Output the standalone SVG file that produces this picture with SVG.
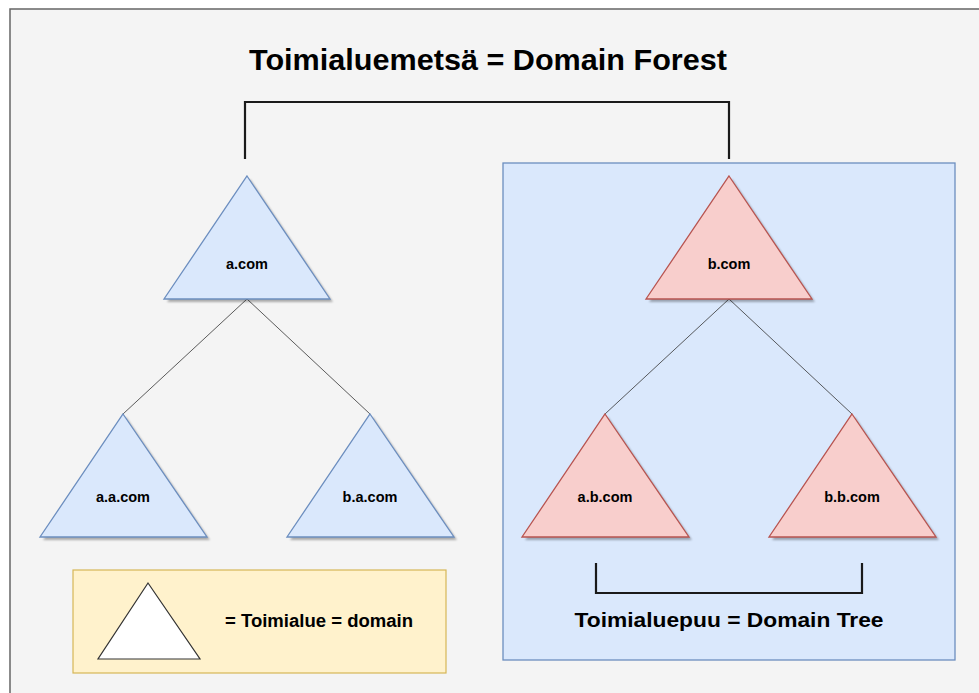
<svg xmlns="http://www.w3.org/2000/svg" width="979" height="693" viewBox="0 0 979 693">
  <style>
    .lbl { font-family: "Liberation Sans", Arial, sans-serif; font-weight: bold; fill: #000; }
    .node { font-size: 14.5px; text-anchor: middle; }
    .blue { fill: #dae8fc; stroke: #6c8ebf; stroke-width: 1.3; }
    .red { fill: #f8cecc; stroke: #b85450; stroke-width: 1.3; }
    .shadow { fill: #000; opacity: 0.3; }
    .link { stroke: #333; stroke-width: 0.8; fill: none; }
    .bracket { stroke: #1a1a1a; stroke-width: 2.2; fill: none; }
  </style>
  <defs>
    <filter id="soft" x="-10%" y="-10%" width="120%" height="120%">
      <feGaussianBlur stdDeviation="0.8"/>
    </filter>
  </defs>

  <!-- page frame -->
  <rect x="10" y="9" width="990" height="700" fill="#f4f4f4" stroke="#666" stroke-width="1.5"/>

  <!-- domain tree container -->
  <g id="tree-area">
    <rect x="503" y="163" width="452" height="497" fill="#dae8fc" stroke="#6c8ebf" stroke-width="1.3"/>
  </g>

  <!-- connectors -->
  <g id="connectors">
    <path class="bracket" d="M245,159 V102 H729 V159"/>
    <line class="link" x1="247" y1="299" x2="123" y2="414"/>
    <line class="link" x1="247" y1="299" x2="370" y2="414"/>
    <line class="link" x1="729" y1="299" x2="605" y2="414"/>
    <line class="link" x1="729" y1="299" x2="852" y2="414"/>
    <path class="bracket" d="M596,563 V593 H862 V563"/>
  </g>

  <g id="title">
    <text class="lbl" x="488" y="70" font-size="29" text-anchor="middle" textLength="478" lengthAdjust="spacingAndGlyphs">Toimialuemetsä = Domain Forest</text>
  </g>

  <!-- domains -->
  <g id="a-com">
    <polygon class="shadow" filter="url(#soft)" points="250,179 333,302 167,302"/>
    <polygon class="blue" points="247,176 330,299 164,299"/>
    <text class="lbl node" x="247" y="269">a.com</text>
  </g>
  <g id="a-a-com">
    <polygon class="shadow" filter="url(#soft)" points="126,417 210,540 43,540"/>
    <polygon class="blue" points="123,414 207,537 40,537"/>
    <text class="lbl node" x="123" y="502">a.a.com</text>
  </g>
  <g id="b-a-com">
    <polygon class="shadow" filter="url(#soft)" points="373,417 457,540 290,540"/>
    <polygon class="blue" points="370,414 454,537 287,537"/>
    <text class="lbl node" x="370" y="502">b.a.com</text>
  </g>
  <g id="b-com">
    <polygon class="shadow" filter="url(#soft)" points="732,179 815,302 649,302"/>
    <polygon class="red" points="729,176 812,299 646,299"/>
    <text class="lbl node" x="729" y="269">b.com</text>
  </g>
  <g id="a-b-com">
    <polygon class="shadow" filter="url(#soft)" points="608,417 692,540 525,540"/>
    <polygon class="red" points="605,414 689,537 522,537"/>
    <text class="lbl node" x="605" y="502">a.b.com</text>
  </g>
  <g id="b-b-com">
    <polygon class="shadow" filter="url(#soft)" points="855,417 939,540 772,540"/>
    <polygon class="red" points="852,414 936,537 769,537"/>
    <text class="lbl node" x="852" y="502">b.b.com</text>
  </g>

  <g id="tree-label">
    <text class="lbl" x="729" y="627" font-size="20" text-anchor="middle" textLength="309" lengthAdjust="spacingAndGlyphs">Toimialuepuu = Domain Tree</text>
  </g>

  <!-- legend -->
  <g id="legend">
    <rect x="73" y="570" width="373" height="103" fill="#fff2cc" stroke="#d6b656" stroke-width="1.2"/>
    <polygon points="148,583 200,659 98,659" fill="#fff" stroke="#333" stroke-width="1.2"/>
    <text class="lbl" x="225" y="627" font-size="17.5" textLength="188" lengthAdjust="spacingAndGlyphs">= Toimialue = domain</text>
  </g>
</svg>
